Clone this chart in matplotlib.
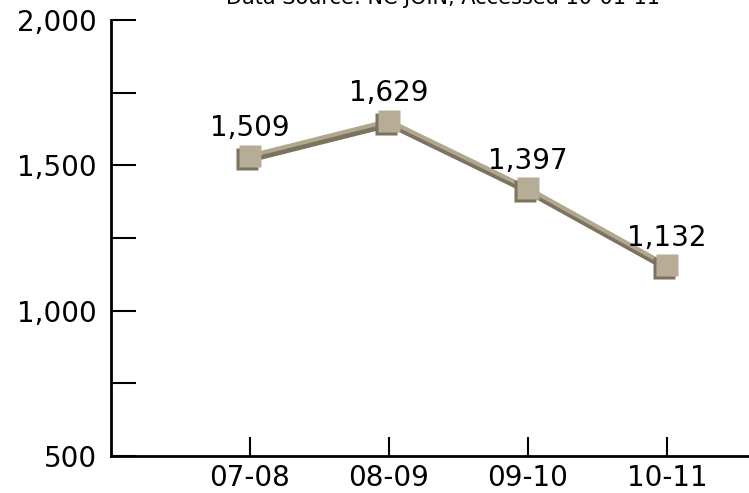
import matplotlib.pyplot as plt
import matplotlib.transforms as mtransforms

seasons = ["07-08", "08-09", "09-10", "10-11"]
values = [1509, 1629, 1397, 1132]
y_major = [500, 1000, 1500, 2000]
y_minor = [750, 1250, 1750]
source = "Data Source: NC JOIN, Accessed 10-01-11"

plt.rcParams['font.family'] = ['DejaVu Sans']

fig = plt.figure(figsize=(7.49, 4.93), dpi=100)
ax = fig.add_axes([111 / 749, 37 / 493, 638 / 749, 436 / 493])

x = list(range(len(seasons)))

# fake 3D: the line sits a few pixels above the value, with a dark side
lift = 7
front = mtransforms.offset_copy(ax.transData, fig=fig, x=0, y=lift, units='dots')
shadow = mtransforms.offset_copy(ax.transData, fig=fig, x=1, y=lift - 3, units='dots')
ax.plot(x, values, color='#7b725f', lw=5, transform=shadow, solid_capstyle='butt', zorder=2)
ax.plot(x, values, color='#b1a78f', lw=3, transform=front, solid_capstyle='butt', zorder=3)

mshadow = mtransforms.offset_copy(ax.transData, fig=fig, x=-3, y=lift - 3, units='dots')
ax.plot(x, values, 's', ms=15.5, color='#7b725f', mec='none', transform=mshadow, zorder=4)
ax.plot(x, values, 's', ms=15.5, color='#b7ad96', mec='none', transform=front, zorder=5)

for xi, v in zip(x, values):
    ax.annotate(f"{v:,}", (xi, v), xytext=(0, 19), textcoords='offset points',
                ha='center', va='baseline', fontsize=20, color='black', zorder=6)

ax.set_xlim(-1, 3.59)
ax.set_ylim(500, 2000)
ax.set_xticks(x)
ax.set_xticklabels(seasons)
ax.set_yticks(y_major)
ax.set_yticklabels([f"{v:,}" for v in y_major])
ax.set_yticks(y_minor, minor=True)

ax.tick_params(axis='y', which='both', direction='in', length=18, width=1.5, pad=10, labelsize=20)
ax.tick_params(axis='x', direction='in', length=14, width=1.5, pad=6, labelsize=20)

for s in ['top', 'right']:
    ax.spines[s].set_visible(False)
for s in ['left', 'bottom']:
    ax.spines[s].set_linewidth(2)
ax.patch.set_visible(False)

fig.text(443 / 749, 1 - 4 / 493, source, ha='center', va='baseline', fontsize=15)

fig.savefig("out.png", dpi=100)
